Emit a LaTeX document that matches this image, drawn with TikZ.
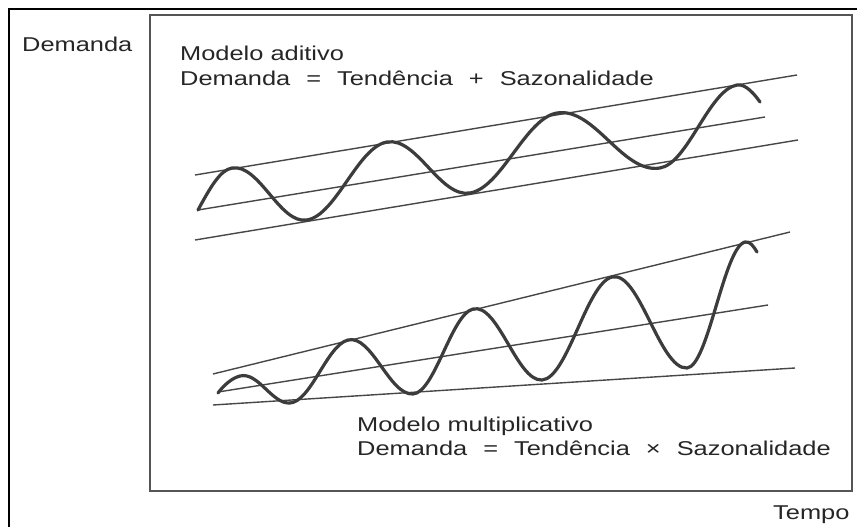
\documentclass[tikz,border=0pt]{standalone}
\usepackage{fontspec}
\usepackage{graphicx}
\setmainfont{Liberation Sans}
\newcommand{\wtxt}[1]{\scalebox{1.27}[1]{#1}}
\newcommand{\gp}{\hspace{12.6pt}}
\definecolor{ink}{HTML}{262626}
\definecolor{framegray}{HTML}{555555}
\tikzset{
  txt/.style={anchor=base west, inner sep=0pt, text=ink, font=\fontsize{20pt}{24pt}\selectfont},
  trend/.style={draw=ink!85, line width=1.4pt},
  wave/.style={draw=ink!90, line width=3.2pt, line cap=round, line join=round},
  frame/.style={draw=framegray, line width=1.2pt},
  border/.style={draw=black, line width=2pt}
}
\begin{document}
\begin{tikzpicture}[x=1pt,y=-1pt]
\useasboundingbox[fill=white] (0,0) rectangle (857,527);
% outer scan border (top and left)
\coordinate (bTL) at (9,9);
\coordinate (bTR) at (857,9);
\coordinate (bBL) at (9,527);
\draw[border] (bTR) -- (bTL) -- (bBL);
% inner frame
\draw[frame] (150,15) rectangle (852,491);

% labels
\node[txt] (ylab) at (22,52) {\wtxt{Demanda}};
\node[txt] (xlab) at (773,519) {\wtxt{Tempo}};
\node[txt] (addT) at (180,60) {\wtxt{Modelo aditivo}};
\node[txt] (addE) at (180,85) {\wtxt{Demanda\gp=\gp Tendência\gp+\gp Sazonalidade}};
\node[txt] (mulT) at (357,431) {\wtxt{Modelo multiplicativo}};
\node[txt] (mulE) at (357,455) {\wtxt{Demanda\gp=\gp Tendência\gp×\gp Sazonalidade}};

% additive model trend lines
\draw[trend] (195,175) -- (797,75);
\draw[trend] (198,210) -- (765,117);
\draw[trend] (195,240) -- (798,140);
% additive wave
\draw[wave] (198,210)
  .. controls (210,188) and (220,170) .. (232,168)
  .. controls (259.3,163.5) and (279.7,224.5) .. (307,220)
  .. controls (336.1,215.2) and (357.9,146.8) .. (387,142)
  .. controls (417.2,137.0) and (439.8,198.0) .. (470,193)
  .. controls (501.7,187.7) and (525.3,118.3) .. (557,113)
  .. controls (594.5,106.8) and (622.5,174.2) .. (660,168)
  .. controls (688,163.4) and (709,89.6) .. (737,85)
  .. controls (746,83.5) and (755,95) .. (760,102);

% multiplicative model trend lines
\draw[trend] (213,374) -- (790,232);
\draw[trend] (218,392) -- (768,305);
\draw[trend] (213,405) -- (795,368);
% multiplicative wave
\draw[wave] (218,393)
  .. controls (224,385) and (232,378) .. (240,376)
  .. controls (258.2,371.5) and (271.8,404.2) .. (290,403)
  .. controls (311.1,401.6) and (326.9,345.2) .. (348,340)
  .. controls (371.7,334.1) and (389.3,395.5) .. (413,394)
  .. controls (434.8,392.6) and (451.2,314.4) .. (473,309)
  .. controls (498.1,302.8) and (516.9,381.6) .. (542,380)
  .. controls (567.5,378.3) and (586.5,283.3) .. (612,277)
  .. controls (639.3,270.2) and (659.7,369.8) .. (687,368)
  .. controls (708.1,366.6) and (723.9,247.2) .. (745,242)
  .. controls (750,240.8) and (754,247) .. (757,252);
\end{tikzpicture}
\end{document}
